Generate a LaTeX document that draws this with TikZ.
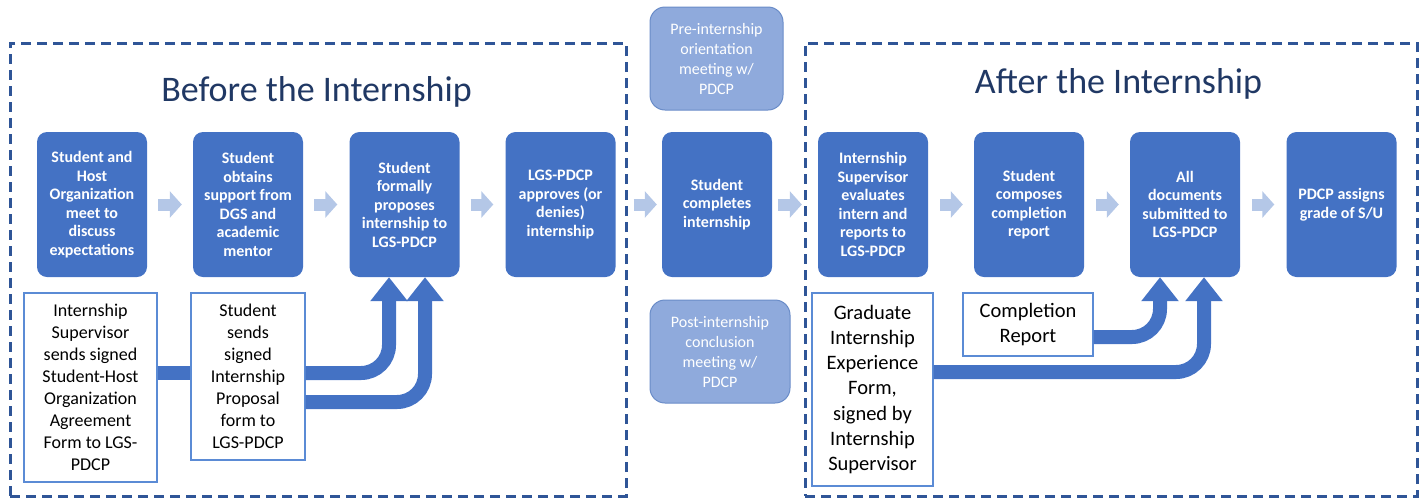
\documentclass[tikz,border=0pt]{standalone}
\usepackage{fontspec}
\setmainfont{Carlito}
\usetikzlibrary{arrows.meta}
\definecolor{mainblue}{HTML}{4472C4}
\definecolor{lightarr}{HTML}{B4C7E7}
\definecolor{paleblue}{HTML}{8FAADC}
\definecolor{paleedge}{HTML}{6A8CC8}
\definecolor{framecol}{HTML}{2F5597}
\definecolor{titlecol}{HTML}{203864}
\definecolor{docedge}{HTML}{5B8BD5}
\tikzset{
  stepbox/.style={draw=none, fill=mainblue, rounded corners=10pt, minimum width=110pt, minimum height=145pt, inner sep=0pt, text=white, align=center, font=\fontsize{16}{18.5}\selectfont\bfseries},
  meetbox/.style={draw=paleedge, line width=1pt, fill=paleblue, rounded corners=15pt, minimum height=103pt, inner sep=0pt, text=white, align=center, font=\fontsize{16}{20}\selectfont},
  docbox/.style={draw=docedge, line width=1.2pt, fill=white, inner sep=0pt, align=center, text=black},
  frame/.style={draw=framecol, line width=3pt, dash pattern=on 10pt off 6pt, inner sep=0pt},
  titletext/.style={text=titlecol, font=\fontsize{36}{40}\selectfont, inner sep=0pt},
  smallarr/.style={draw=lightarr, line width=12pt, -{Triangle[width=26pt,length=12pt]}},
  band/.style={draw=mainblue, line width=14pt},
  bigarrow/.style={draw=mainblue, line width=14pt, rounded corners=28pt, -{Triangle[width=36pt,length=24pt]}},
}
\begin{document}
\begin{tikzpicture}[x=1pt, y=-1pt]
\useasboundingbox (0,0) rectangle (1422,499);
% frames
\node[frame, minimum width=616pt, minimum height=453pt] (fbefore) at (318,269.5) {};
\node[frame, minimum width=612pt, minimum height=453pt] (fafter) at (1111,269.5) {};
\node[titletext, anchor=base] (tbefore) at (316.5,101) {Before the Internship};
\node[titletext, anchor=base] (tafter) at (1118.5,93) {After the Internship};
% step boxes
\node[stepbox] (b1) at (92,204.5) {Student and\\Host\\Organization\\meet to\\discuss\\expectations};
\node[stepbox] (b2) at (248,204.5) {Student\\obtains\\support from\\DGS and\\academic\\mentor};
\node[stepbox] (b3) at (404.5,204.5) {Student\\formally\\proposes\\internship to\\LGS-PDCP};
\node[stepbox] (b4) at (560.5,204.5) {LGS-PDCP\\approves (or\\denies)\\internship};
\node[stepbox] (b5) at (717,204.5) {Student\\completes\\internship};
\node[stepbox] (b6) at (873,204.5) {Internship\\Supervisor\\evaluates\\intern and\\reports to\\LGS-PDCP};
\node[stepbox] (b7) at (1029,204.5) {Student\\composes\\completion\\report};
\node[stepbox] (b8) at (1185,204.5) {All\\documents\\submitted to\\LGS-PDCP};
\node[stepbox] (b9) at (1341.5,204.5) {PDCP assigns\\grade of S/U};
% meetings
\node[meetbox, minimum width=133pt] (pre) at (716.5,58.5) {Pre-internship\\orientation\\meeting w/\\PDCP};
\node[meetbox, minimum width=140pt] (post) at (720,351.5) {Post-internship\\conclusion\\meeting w/\\PDCP};
% small arrows
\draw[smallarr] ([xshift=11pt]b1.east) -- ([xshift=-11pt]b2.west);
\draw[smallarr] ([xshift=11pt]b2.east) -- ([xshift=-12pt]b3.west);
\draw[smallarr] ([xshift=11pt]b3.east) -- ([xshift=-12pt]b4.west);
\draw[smallarr] ([xshift=18pt]b4.east) -- ([xshift=-5pt]b5.west);
\draw[smallarr] ([xshift=6pt]b5.east) -- ([xshift=-16pt]b6.west);
\draw[smallarr] ([xshift=12pt]b6.east) -- ([xshift=-11pt]b7.west);
\draw[smallarr] ([xshift=12pt]b7.east) -- ([xshift=-11pt]b8.west);
\draw[smallarr] ([xshift=12pt]b8.east) -- ([xshift=-12pt]b9.west);
% document boxes
\node[docbox, minimum width=133pt, minimum height=189pt, font=\fontsize{18}{22}\selectfont] (da) at (90.5,387.5) {Internship\\Supervisor\\sends signed\\Student-Host\\Organization\\Agreement\\Form to LGS-\\PDCP};
\node[docbox, minimum width=114pt, minimum height=167pt, font=\fontsize{18}{22}\selectfont] (db) at (248,376.5) {Student\\sends\\signed\\Internship\\Proposal\\form to\\LGS-PDCP};
\node[docbox, minimum width=121pt, minimum height=193pt, font=\fontsize{20.5}{25.3}\selectfont] (dg) at (872.5,389.5) {Graduate\\Internship\\Experience\\Form,\\signed by\\Internship\\Supervisor};
\node[docbox, minimum width=130pt, minimum height=63pt, font=\fontsize{20.5}{25.3}\selectfont] (dc) at (1028,324.5) {Completion\\Report};
% big arrows
\draw[band] (da.east |- 0,373) -- (db.west |- 0,373);
\draw[bigarrow] (db.east |- 0,373) -- (389,373) -- (389,0 |- b3.south);
\draw[bigarrow] (db.east |- 0,402) -- (425,402) -- (425,0 |- b3.south);
\draw[bigarrow] (dc.east |- 0,337) -- (1160,337) -- (1160,0 |- b8.south);
\draw[bigarrow] (dg.east |- 0,372) -- (1204,372) -- (1204,0 |- b8.south);
\end{tikzpicture}
\end{document}
